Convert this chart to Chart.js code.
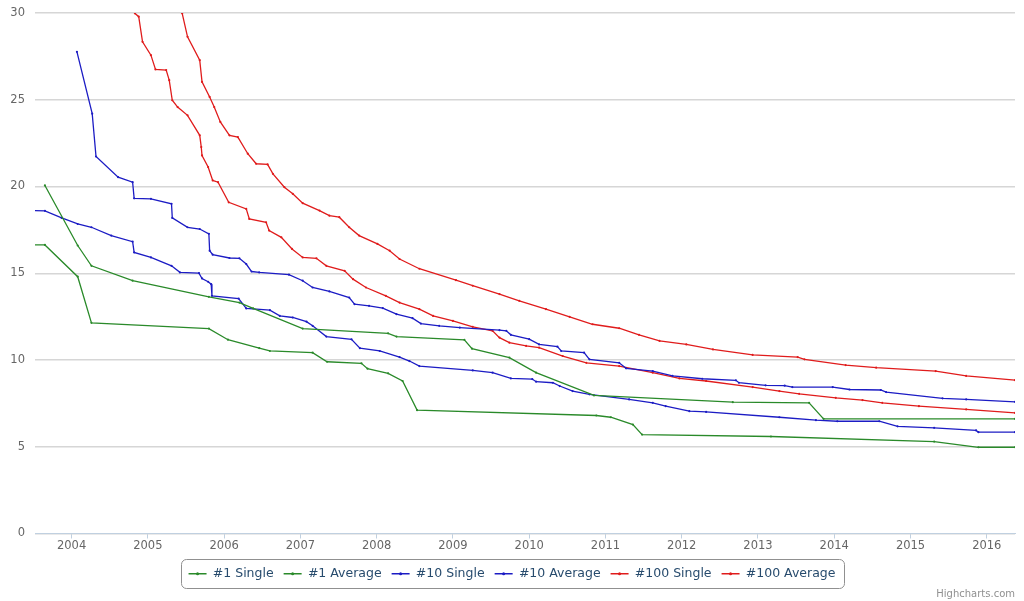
<!DOCTYPE html>
<html>
<head>
<meta charset="utf-8">
<script src="https://cdn.jsdelivr.net/npm/chart.js@4/dist/chart.umd.min.js"></script>
<style>
  html, body { margin: 0; padding: 0; background: #fff; }
  #wrap { width: 1024px; height: 601px; }
</style>
</head>
<body>
<div id="wrap"><canvas id="recordsChart" width="1024" height="601"></canvas></div>
<script>
// Años del eje X (marcas)
const yearTicks = [2004, 2005, 2006, 2007, 2008, 2009, 2010, 2011, 2012, 2013, 2014, 2015, 2016];

// Series: [año decimal, tiempo en segundos]
const n1Single = [[2003.45,16.63],[2003.65,16.63],[2004.08,14.8],[2004.26,12.14],[2005.8,11.81],[2006.05,11.17],[2006.46,10.69],[2006.6,10.52],[2007.16,10.42],[2007.35,9.9],[2007.8,9.81],[2007.88,9.5],[2008.15,9.23],[2008.34,8.79],[2008.53,7.11],[2010.88,6.8],[2011.07,6.7],[2011.36,6.28],[2011.48,5.7],[2013.17,5.59],[2015.31,5.3],[2015.89,4.97],[2016.37,4.97]];
const n1Average = [[2003.65,20.06],[2004.08,16.6],[2004.26,15.43],[2004.8,14.57],[2005.8,13.64],[2006.2,13.31],[2006.38,12.97],[2007.03,11.81],[2008.15,11.54],[2008.26,11.35],[2009.15,11.16],[2009.25,10.65],[2009.74,10.14],[2010.09,9.27],[2010.85,7.96],[2012.67,7.57],[2013.67,7.53],[2013.86,6.61],[2016.37,6.61]];
const n10Single = [[2003.45,18.61],[2003.65,18.6],[2003.87,18.19],[2004.08,17.84],[2004.26,17.65],[2004.52,17.17],[2004.8,16.82],[2004.82,16.2],[2005.04,15.91],[2005.31,15.43],[2005.42,15.05],[2005.67,15.01],[2005.71,14.7],[2005.79,14.51],[2005.83,14.37],[2005.84,13.7],[2006.19,13.54],[2006.29,12.97],[2006.6,12.87],[2006.73,12.54],[2006.9,12.45],[2007.08,12.21],[2007.16,11.97],[2007.34,11.35],[2007.67,11.19],[2007.78,10.68],[2008.04,10.52],[2008.3,10.17],[2008.43,9.94],[2008.56,9.65],[2009.26,9.4],[2009.52,9.27],[2009.76,8.94],[2010.04,8.9],[2010.09,8.75],[2010.31,8.69],[2010.4,8.5],[2010.57,8.21],[2010.79,8.02],[2011.31,7.73],[2011.62,7.53],[2011.79,7.34],[2012.1,7.05],[2012.32,7.01],[2013.28,6.7],[2013.76,6.53],[2014.04,6.47],[2014.59,6.47],[2014.83,6.18],[2015.31,6.09],[2015.86,5.94],[2015.89,5.84],[2016.37,5.84]];
const n10Average = [[2004.07,27.76],[2004.27,24.2],[2004.32,21.73],[2004.61,20.54],[2004.8,20.25],[2004.82,19.32],[2005.04,19.29],[2005.31,19.0],[2005.32,18.19],[2005.52,17.65],[2005.68,17.55],[2005.8,17.27],[2005.81,16.3],[2005.85,16.07],[2006.07,15.88],[2006.2,15.86],[2006.29,15.53],[2006.36,15.1],[2006.46,15.05],[2006.85,14.92],[2007.03,14.57],[2007.16,14.18],[2007.38,13.95],[2007.64,13.6],[2007.71,13.22],[2007.9,13.12],[2008.08,12.99],[2008.26,12.64],[2008.47,12.41],[2008.58,12.1],[2008.82,11.97],[2009.09,11.87],[2009.61,11.72],[2009.7,11.68],[2009.76,11.45],[2010.0,11.2],[2010.13,10.9],[2010.37,10.77],[2010.42,10.52],[2010.72,10.42],[2010.79,10.04],[2011.18,9.84],[2011.27,9.52],[2011.62,9.36],[2011.88,9.08],[2012.27,8.92],[2012.71,8.83],[2012.75,8.69],[2013.1,8.54],[2013.35,8.52],[2013.45,8.44],[2013.98,8.44],[2014.2,8.3],[2014.61,8.27],[2014.68,8.15],[2015.42,7.79],[2015.73,7.73],[2016.37,7.59]];
const n100Single = [[2004.81,31.0],[2004.83,29.98],[2004.88,29.79],[2004.93,28.34],[2005.04,27.57],[2005.1,26.75],[2005.24,26.71],[2005.28,26.13],[2005.32,24.97],[2005.39,24.58],[2005.52,24.1],[2005.68,22.95],[2005.7,22.27],[2005.71,21.79],[2005.79,21.12],[2005.85,20.35],[2005.92,20.25],[2006.06,19.09],[2006.29,18.71],[2006.33,18.13],[2006.55,17.94],[2006.59,17.46],[2006.75,17.07],[2006.89,16.4],[2007.03,15.91],[2007.21,15.86],[2007.34,15.43],[2007.58,15.14],[2007.69,14.66],[2007.86,14.18],[2008.12,13.7],[2008.3,13.31],[2008.56,12.93],[2008.74,12.54],[2009.0,12.25],[2009.26,11.91],[2009.52,11.68],[2009.61,11.29],[2009.74,11.0],[2009.96,10.81],[2010.13,10.71],[2010.44,10.23],[2010.75,9.84],[2011.18,9.65],[2011.62,9.27],[2011.97,8.94],[2012.32,8.79],[2012.93,8.44],[2013.28,8.21],[2013.54,8.05],[2014.02,7.82],[2014.37,7.69],[2014.63,7.53],[2015.11,7.34],[2015.73,7.15],[2016.37,6.95]];
const n100Average = [[2005.43,31.0],[2005.45,29.98],[2005.52,28.63],[2005.68,27.28],[2005.71,26.03],[2005.81,25.16],[2005.87,24.58],[2005.95,23.72],[2006.07,22.95],[2006.18,22.85],[2006.31,21.89],[2006.42,21.31],[2006.57,21.27],[2006.64,20.73],[2006.79,19.96],[2006.9,19.58],[2007.03,19.04],[2007.25,18.61],[2007.38,18.32],[2007.51,18.23],[2007.64,17.65],[2007.77,17.17],[2008.01,16.69],[2008.17,16.3],[2008.3,15.82],[2008.56,15.26],[2009.04,14.6],[2009.26,14.28],[2009.61,13.8],[2009.87,13.41],[2010.22,12.93],[2010.53,12.49],[2010.83,12.06],[2011.18,11.83],[2011.44,11.45],[2011.71,11.1],[2012.06,10.9],[2012.41,10.61],[2012.93,10.29],[2013.52,10.17],[2013.61,10.04],[2014.15,9.71],[2014.55,9.56],[2015.33,9.36],[2015.73,9.08],[2016.37,8.84]];

const seriesNames = ['#1 Single', '#1 Average', '#10 Single', '#10 Average', '#100 Single', '#100 Average'];
const seriesData = [n1Single, n1Average, n10Single, n10Average, n100Single, n100Average];

// Colores por ranking
const GREEN = '#2a8a2a';
const BLUE = '#1c1cc4';
const RED = '#e01c1c';
const seriesColors = [GREEN, GREEN, BLUE, BLUE, RED, RED];

const FONT = '"DejaVu Sans", "Liberation Sans", sans-serif';

// Caja del legend + símbolo + crédito
const extrasPlugin = {
  id: 'extras',
  afterDraw(chart) {
    const ctx = chart.ctx;
    const lg = chart.legend;
    const hb = lg.legendHitBoxes;
    if (hb && hb.length) {
      const last = hb[hb.length - 1];
      const cy = hb[0].top + hb[0].height / 2;
      const x0 = hb[0].left - 8;
      const x1 = last.left + last.width + 8;
      ctx.save();
      ctx.strokeStyle = '#909090';
      ctx.lineWidth = 1;
      ctx.beginPath();
      ctx.roundRect(Math.round(x0) + 0.5, Math.round(cy - 15) + 0.5, Math.round(x1 - x0), 29, 5);
      ctx.stroke();
      // punto del marcador en el símbolo
      hb.forEach((b, i) => {
        ctx.fillStyle = seriesColors[i];
        ctx.beginPath();
        ctx.arc(b.left + 9, cy, 1.5, 0, Math.PI * 2);
        ctx.fill();
      });
      ctx.restore();
    }
    ctx.save();
    ctx.font = '10px ' + FONT;
    ctx.fillStyle = '#909090';
    ctx.textAlign = 'right';
    ctx.textBaseline = 'middle';
    ctx.fillText('Highcharts.com', 1015, 594);
    ctx.restore();
  }
};

const canvas = document.getElementById('recordsChart');
const chart = new Chart(canvas.getContext('2d'), {
  type: 'line',
  data: {
    datasets: seriesData.map((arr, i) => ({
      label: seriesNames[i],
      data: arr.map(p => ({ x: p[0], y: p[1] })),
      borderColor: seriesColors[i],
      backgroundColor: seriesColors[i],
      borderWidth: 1.3,
      pointRadius: 1.1,
      pointBorderWidth: 0,
      pointBackgroundColor: seriesColors[i],
      tension: 0,
      fill: false
    }))
  },
  options: {
    responsive: false,
    animation: false,
    devicePixelRatio: 1,
    layout: { padding: { left: 9, right: 9, top: 13, bottom: 11 } },
    plugins: {
      tooltip: { enabled: false },
      legend: {
        position: 'bottom',
        labels: {
          boxWidth: 18,
          boxHeight: 1.5,
          padding: 10,
          color: '#274b6d',
          font: { family: FONT, size: 12.5 },
          generateLabels: (ch) => ch.data.datasets.map((ds, i) => ({
            text: ds.label,
            fillStyle: seriesColors[i],
            strokeStyle: seriesColors[i],
            lineWidth: 0,
            hidden: false,
            datasetIndex: i,
            fontColor: '#274b6d'
          }))
        }
      }
    },
    scales: {
      x: {
        type: 'linear',
        min: 2003.52,
        max: 2016.37,
        afterBuildTicks: (scale) => { scale.ticks = yearTicks.map(v => ({ value: v })); },
        afterFit: (scale) => { scale.height = 24; },
        ticks: {
          autoSkip: false,
          maxRotation: 0,
          padding: 1,
          color: '#666',
          font: { family: FONT, size: 11.5 },
          callback: (v) => String(v)
        },
        grid: { drawOnChartArea: false, drawTicks: true, tickLength: 5, color: '#c0d0e0' },
        border: { display: true, color: '#c0d0e0', width: 1 }
      },
      y: {
        min: 0,
        max: 30,
        afterFit: (scale) => {
          scale.width = 26;
          // el padding de las etiquetas no debe empujar el área del gráfico
          scale.paddingTop = 0;
          scale.paddingBottom = 0;
        },
        ticks: {
          stepSize: 5,
          padding: 10,
          color: '#666',
          font: { family: FONT, size: 11.5 }
        },
        grid: { color: '#d6d6d6', lineWidth: 1.5, drawTicks: false },
        border: { display: false }
      }
    }
  },
  plugins: [extrasPlugin]
});
</script>
</body>
</html>
